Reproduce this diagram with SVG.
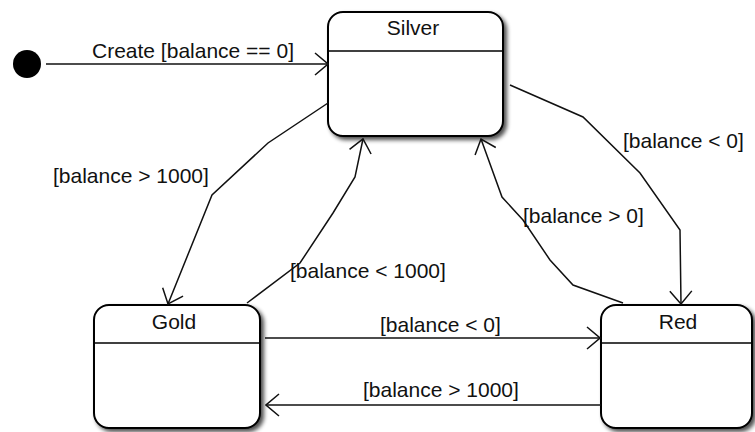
<svg xmlns="http://www.w3.org/2000/svg" width="755" height="432" viewBox="0 0 755 432">
  <style>
    .state { fill: #ffffff; stroke: #000000; stroke-width: 2; }
    .divider { stroke: #000000; stroke-width: 1.6; }
    .edge { fill: none; stroke: #111111; stroke-width: 1.5; marker-end: url(#arrow); }
    .label { font-family: "Liberation Sans", Arial, sans-serif; font-size: 21px; fill: #111111; }
    .title { font-family: "Liberation Sans", Arial, sans-serif; font-size: 21px; fill: #111111; text-anchor: middle; }
  </style>
  <defs>
    <marker id="arrow" viewBox="0 0 15 24" refX="14" refY="12" markerWidth="15" markerHeight="24" markerUnits="userSpaceOnUse" orient="auto">
      <path d="M1,1 L14,12 L1,23" fill="none" stroke="#111111" stroke-width="1.5"/>
    </marker>
    <filter id="shadow" x="-10%" y="-10%" width="125%" height="125%">
      <feGaussianBlur in="SourceAlpha" stdDeviation="2"/>
      <feOffset dx="3" dy="3" result="blur"/>
      <feComponentTransfer>
        <feFuncA type="linear" slope="0.7"/>
      </feComponentTransfer>
      <feMerge>
        <feMergeNode/>
        <feMergeNode in="SourceGraphic"/>
      </feMerge>
    </filter>
  </defs>

  <rect width="755" height="432" fill="#ffffff"/>

  <!-- initial pseudo-state -->
  <g id="initial">
    <circle cx="27" cy="64" r="14" fill="#000000"/>
  </g>

  <!-- states -->
  <g id="silver">
    <rect class="state" x="328" y="12" width="175" height="124" rx="15" filter="url(#shadow)"/>
    <line class="divider" x1="328" y1="51" x2="503" y2="51"/>
    <text class="title" x="413" y="35">Silver</text>
  </g>
  <g id="gold">
    <rect class="state" x="94" y="305" width="166" height="123" rx="15" filter="url(#shadow)"/>
    <line class="divider" x1="94" y1="343" x2="260" y2="343"/>
    <text class="title" x="174" y="329">Gold</text>
  </g>
  <g id="red">
    <rect class="state" x="601" y="305" width="151" height="123" rx="15" filter="url(#shadow)"/>
    <line class="divider" x1="601" y1="343" x2="752" y2="343"/>
    <text class="title" x="678" y="329">Red</text>
  </g>

  <!-- transitions -->
  <g id="connectors">
    <line class="edge" x1="46" y1="64" x2="328" y2="64"/>
    <polyline class="edge" points="328,103 268,143 212,195 168,304"/>
    <polyline class="edge" points="247,303 300,263 333,213 355,177 363,139"/>
    <polyline class="edge" points="510,85 583,117 640,173 680,230 681,304"/>
    <polyline class="edge" points="623,303 573,285 550,260 523,220 502,197 481,139"/>
    <line class="edge" x1="265" y1="338" x2="600" y2="338"/>
    <line class="edge" x1="601" y1="405" x2="266" y2="405"/>

    <text class="label" x="92" y="58">Create [balance == 0]</text>
    <text class="label" x="53" y="183">[balance &gt; 1000]</text>
    <text class="label" x="290" y="278">[balance &lt; 1000]</text>
    <text class="label" x="623" y="148">[balance &lt; 0]</text>
    <text class="label" x="523" y="223">[balance &gt; 0]</text>
    <text class="label" x="380" y="332">[balance &lt; 0]</text>
    <text class="label" x="363" y="397">[balance &gt; 1000]</text>
  </g>
</svg>
